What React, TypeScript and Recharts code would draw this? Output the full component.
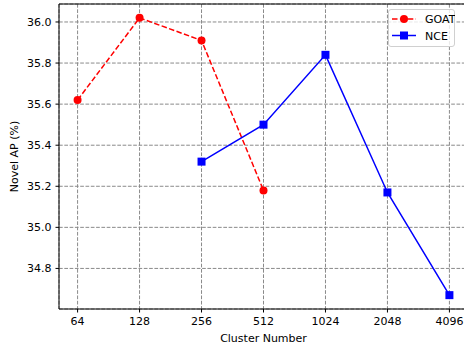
import React from 'react';
import { LineChart, Line, XAxis, YAxis, CartesianGrid, ReferenceLine } from 'recharts';

const clusterSizes = ['64', '128', '256', '512', '1024', '2048', '4096'];
const goatAP = [35.62, 36.02, 35.91, 35.18, null, null, null];
const nceAP = [null, null, 35.32, 35.5, 35.84, 35.17, 34.67];
const yTicks = [34.8, 35.0, 35.2, 35.4, 35.6, 35.8, 36.0];

const data = clusterSizes.map((c, i) => ({ idx: i, label: c, goat: goatAP[i], nce: nceAP[i] }));

const FONT = 'DejaVu Sans, sans-serif';
const FS = 11;
const Y_MIN = 34.6025;
const Y_MAX = 36.0875;

const SquareDot = (props: any) => {
  const { cx, cy, index } = props;
  if (cx == null || cy == null) return <g key={`sq-${index}`} />;
  return <rect key={`sq-${index}`} x={cx - 4} y={cy - 4} width={8} height={8} fill="#0000ff" />;
};

const CircleDot = (props: any) => {
  const { cx, cy, index } = props;
  if (cx == null || cy == null) return <g key={`ci-${index}`} />;
  return <circle key={`ci-${index}`} cx={cx} cy={cy} r={4} fill="#ff0000" />;
};

const ChartLegend = () => (
  <div
    style={{
      position: 'absolute',
      left: 388,
      top: 9,
      width: 67,
      height: 38,
      background: 'rgba(255,255,255,0.8)',
      border: '1px solid #d0d0d0',
      borderRadius: 3,
      boxSizing: 'border-box',
    }}
  >
    <svg width={67} height={38} style={{ position: 'absolute', left: -1, top: -1 }}>
      <line x1={4} y1={10} x2={28} y2={10} stroke="#ff0000" strokeWidth={1.5} strokeDasharray="5.5 2.4" />
      <circle cx={16} cy={10} r={4} fill="#ff0000" />
      <text x={37} y={14} fontSize={FS} fontFamily={FONT} fill="#000">GOAT</text>
      <line x1={4} y1={26.5} x2={28} y2={26.5} stroke="#0000ff" strokeWidth={1.5} />
      <rect x={12} y={22.5} width={8} height={8} fill="#0000ff" />
      <text x={37} y={30.5} fontSize={FS} fontFamily={FONT} fill="#000">NCE</text>
    </svg>
  </div>
);

export default function App() {
  return (
    <div style={{ position: 'absolute', left: 0, top: 0, width: 464, height: 347, overflow: 'hidden', background: '#fff' }}>
      <LineChart width={470} height={347} data={data} margin={{ top: 4, right: 2, bottom: 0, left: 0 }}>
        <CartesianGrid stroke="#8a8a8a" strokeDasharray="3.7 1.6" strokeWidth={1} />
        <XAxis
          dataKey="idx"
          type="number"
          domain={[-0.3, 6.3]}
          ticks={[0, 1, 2, 3, 4, 5, 6]}
          tickFormatter={(v: number) => clusterSizes[v]}
          axisLine={{ stroke: '#000', strokeWidth: 1 }}
          tickLine={{ stroke: '#000' }}
          tickSize={3.5}
          tickMargin={5}
          tick={{ fill: '#000', fontSize: FS, fontFamily: FONT }}
          height={38}
          label={{ value: 'Cluster Number', position: 'insideBottom', offset: 5, fill: '#000', fontSize: FS, fontFamily: FONT }}
        />
        <YAxis
          type="number"
          domain={[Y_MIN, Y_MAX]}
          ticks={yTicks}
          tickFormatter={(v: number) => v.toFixed(1)}
          axisLine={{ stroke: '#000', strokeWidth: 1 }}
          tickLine={{ stroke: '#000' }}
          tickSize={3.5}
          tickMargin={4}
          tick={{ fill: '#000', fontSize: FS, fontFamily: FONT }}
          width={59}
          allowDataOverflow
          label={{ value: 'Novel AP (%)', angle: -90, position: 'insideLeft', offset: 14, fill: '#000', fontSize: FS, fontFamily: FONT, style: { textAnchor: 'middle' } }}
        />
        <ReferenceLine y={Y_MAX} stroke="#000" strokeWidth={1} />
        <Line
          dataKey="goat"
          stroke="#ff0000"
          strokeWidth={1.5}
          strokeDasharray="5.5 2.4"
          dot={CircleDot}
          activeDot={false}
          isAnimationActive={false}
        />
        <Line
          dataKey="nce"
          stroke="#0000ff"
          strokeWidth={1.5}
          dot={SquareDot}
          activeDot={false}
          isAnimationActive={false}
        />
      </LineChart>
      <ChartLegend />
    </div>
  );
}
